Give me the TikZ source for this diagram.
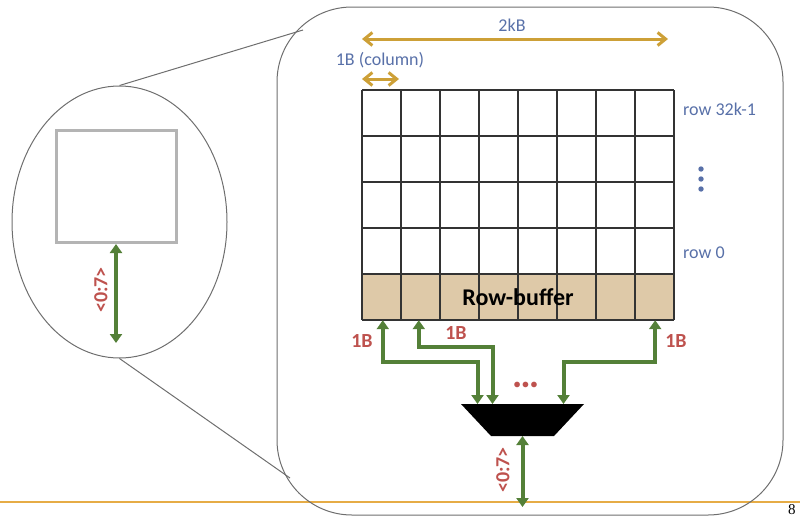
\documentclass[tikz,border=0pt]{standalone}
\usepackage{fontspec}
\setmainfont{Carlito}
\newfontfamily\pagefont{Liberation Serif}
\usepackage{tikz}
\usetikzlibrary{arrows.meta, positioning, shapes.geometric, calc}
\definecolor{BusGreen}{RGB}{84, 128, 56}
\definecolor{SizeGold}{RGB}{205, 160, 55}
\definecolor{LabelBlue}{RGB}{88, 112, 168}
\definecolor{WidthRed}{RGB}{190, 82, 78}
\definecolor{BufferTan}{RGB}{222, 201, 168}
\definecolor{SlideLine}{RGB}{230, 172, 70}
\definecolor{FrameGray}{RGB}{110, 110, 110}
\definecolor{ChipGray}{RGB}{180, 180, 180}
\tikzset{
  busarr/.style={{Triangle[length=9pt,width=12pt]}-{Triangle[length=9pt,width=12pt]},
                 line width=4pt, color=BusGreen},
  sizearr/.style={{Straight Barb[length=8pt,width=13pt]}-{Straight Barb[length=8pt,width=13pt]},
                  line width=3pt, color=SizeGold},
  bluelbl/.style={font=\fontsize{18}{21}\selectfont, text=LabelBlue, inner sep=0pt},
  redlbl/.style={font=\fontsize{20}{23}\selectfont\bfseries, text=WidthRed, inner sep=0pt},
  cell/.style={draw=black!80, line width=1.2pt},
  frame/.style={draw=FrameGray, line width=1pt},
}

\begin{document}
\begin{tikzpicture}[x=1pt, y=-1pt]
  \useasboundingbox (0,0) rectangle (800,520);

  % slide rule
  \draw[SlideLine, line width=2pt] (0,502) -- (800,502);

  % zoomed-in view
  \draw[frame, rounded corners=75pt] (277,7) rectangle (783,515);
  \node[frame, ellipse, minimum width=215pt, minimum height=272pt, inner sep=0pt]
       (lens) at (119.5,222) {};
  \coordinate (zoomtop) at (303,30);
  \coordinate (zoombot) at (290,478);
  \draw[frame] (lens.north) -- (zoomtop);
  \draw[frame] (lens.south) -- (zoombot);

  % chip
  \node[draw=ChipGray, line width=3pt, minimum width=120pt, minimum height=112pt,
        inner sep=0pt] (chip) at (116,186.5) {};
  \coordinate (chipbus) at (116,343);
  \draw[busarr] (chip.south) -- (chipbus);
  \node[redlbl, rotate=90] (chipw) at (101,290) {<0:7>};

  % array
  \node[fill=BufferTan, minimum width=312pt, minimum height=46pt, inner sep=0pt]
       (rb) at (518,297) {};
  \foreach \i in {0,...,8}
    \draw[cell] (362+39*\i,90) -- (362+39*\i,320);
  \foreach \j in {0,...,5}
    \draw[cell] (362,90+46*\j) -- (674,90+46*\j);
  \node[font=\fontsize{24}{27}\selectfont\bfseries, inner sep=0pt] (rbtext) at (rb.center) {Row-buffer};

  % sizes
  \coordinate (rowl) at (362,39);
  \coordinate (rowr) at (668,39);
  \draw[sizearr] (rowl) -- (rowr);
  \node[bluelbl] (rowsize) at (512,25) {2kB};
  \coordinate (coll) at (362,79);
  \coordinate (colr) at (399,79);
  \draw[sizearr] (coll) -- (colr);
  \node[bluelbl] (colsize) at (380,60) {1B (column)};

  % row labels
  \node[bluelbl, anchor=west] (rowtop) at (683,109) {row 32k-1};
  \node[bluelbl, anchor=west] (rowzero) at (683,253) {row 0};
  \foreach \k in {0,1,2}
    \fill[LabelBlue] (701,169+10*\k) circle (2.7pt);

  % mux
  \coordinate (mux) at (522.5,404);
  \coordinate (muxtl) at (461,404);
  \coordinate (muxtr) at (584,404);
  \coordinate (muxbr) at (554,436);
  \coordinate (muxbl) at (491,436);
  \coordinate (muxout) at (522.5,436);
  \fill[black] (muxtl) -- (muxtr) -- (muxbr) -- (muxbl) -- cycle;

  \draw[busarr] ($(rb.south west)+(21,0)$) -- ++(0,42) -| ($(mux)+(-45,0)$);
  \draw[busarr] ($(rb.south west)+(57,0)$) -- ++(0,27) -| ($(mux)+(-30,0)$);
  \draw[busarr] ($(rb.south east)+(-19,0)$) -- ++(0,42) -| ($(mux)+(41,0)$);
  \node[redlbl] (w1) at (362,341) {1B};
  \node[redlbl] (w2) at (456,333) {1B};
  \node[redlbl] (w3) at (676,341) {1B};
  \node[redlbl, font=\fontsize{38}{40}\selectfont\bfseries, anchor=base] (more) at (526,387) {…};

  \coordinate (muxbus) at (522.5,507);
  \draw[busarr] (muxout) -- (muxbus);
  \node[redlbl, rotate=90] (muxw) at (503,470) {<0:7>};

  % slide number
  \node[font=\pagefont\fontsize{15}{15}\selectfont, anchor=north west, inner sep=0pt]
       (pagenum) at (788,504) {8};
\end{tikzpicture}
\end{document}
